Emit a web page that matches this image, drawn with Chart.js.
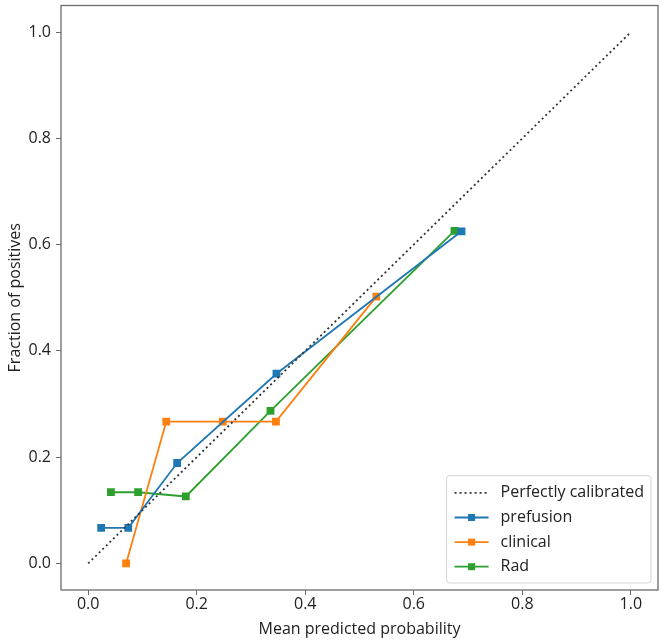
<!DOCTYPE html>
<html>
<head>
<meta charset="utf-8">
<script src="https://cdn.jsdelivr.net/npm/chart.js@4/dist/chart.umd.min.js"></script>
<style>
  body { margin: 0; background: #fff; }
  #wrap { width: 666px; height: 643px; }
</style>
</head>
<body>
<div id="wrap"><canvas id="calibChart" width="666" height="643"></canvas></div>
<script>
// calibration curves
const perfectX = [0, 1];
const perfectY = [0, 1];

const prefusionX = [0.024, 0.074, 0.164, 0.347, 0.688];
const prefusionY = [0.067, 0.067, 0.189, 0.357, 0.625];

const clinicalX = [0.070, 0.144, 0.248, 0.346, 0.531];
const clinicalY = [0.0, 0.267, 0.267, 0.267, 0.502];

const radX = [0.042, 0.092, 0.180, 0.336, 0.675];
const radY = [0.134, 0.134, 0.126, 0.287, 0.626];

const tickValues = [0, 0.2, 0.4, 0.6, 0.8, 1.0];

const toPoints = (xs, ys) => xs.map((x, i) => ({x: x, y: ys[i]}));

const FONT = "'Open Sans', 'Noto Sans', sans-serif";
const TEXT = '#222222';
const AXIS = '#6b6b6b';

// frame round the plot area (matplotlib spines)
const framePlugin = {
    id: 'frame',
    afterDraw(chart) {
        const a = chart.chartArea;
        const ctx = chart.ctx;
        ctx.save();
        ctx.strokeStyle = AXIS;
        ctx.lineWidth = 1.3;
        ctx.strokeRect(a.left, a.top, a.right - a.left, a.bottom - a.top);
        ctx.restore();
    }
};

// legend in the lower right corner, drawn inside the axes
const insideLegend = {
    id: 'insideLegend',
    afterDatasetsDraw(chart) {
        const ctx = chart.ctx;
        const a = chart.chartArea;
        const sets = chart.data.datasets;
        ctx.save();
        ctx.font = '16px ' + FONT;
        let textW = 0;
        sets.forEach(ds => { textW = Math.max(textW, ctx.measureText(ds.label).width); });
        const rowH = 24.6;
        const lineLen = 34;
        const padX = 8;
        const boxW = padX + lineLen + 12 + textW + 7;
        const boxH = rowH * sets.length + 9;
        const x0 = a.right - 7 - boxW;
        const y0 = a.bottom - 7 - boxH;

        ctx.beginPath();
        ctx.roundRect(x0, y0, boxW, boxH, 3);
        ctx.fillStyle = 'rgba(255,255,255,0.85)';
        ctx.fill();
        ctx.strokeStyle = '#d6d6d6';
        ctx.lineWidth = 1;
        ctx.stroke();

        sets.forEach((ds, i) => {
            const cy = y0 + 5 + rowH * i + rowH / 2;
            const lx = x0 + padX;
            ctx.beginPath();
            ctx.setLineDash(ds.borderDash || []);
            ctx.strokeStyle = ds.borderColor;
            ctx.lineWidth = ds.borderWidth;
            ctx.moveTo(lx, cy);
            ctx.lineTo(lx + lineLen, cy);
            ctx.stroke();
            ctx.setLineDash([]);
            if (ds.pointRadius > 0) {
                const s = 7;
                ctx.fillStyle = ds.borderColor;
                ctx.fillRect(lx + lineLen / 2 - s / 2, cy - s / 2, s, s);
            }
            ctx.fillStyle = TEXT;
            ctx.textAlign = 'left';
            ctx.textBaseline = 'middle';
            ctx.fillText(ds.label, lx + lineLen + 12, cy);
        });
        ctx.restore();
    }
};

const seriesStyle = (color) => ({
    borderColor: color,
    backgroundColor: color,
    borderWidth: 1.8,
    pointStyle: 'rect',
    pointRadius: 5.5,
    pointHoverRadius: 5.5,
    pointBorderWidth: 0,
    showLine: true,
    tension: 0
});

new Chart(document.getElementById('calibChart'), {
    type: 'scatter',
    data: {
        datasets: [{
            label: 'Perfectly calibrated',
            data: toPoints(perfectX, perfectY),
            borderColor: '#333333',
            backgroundColor: '#333333',
            borderWidth: 1.8,
            borderDash: [2, 3],
            pointRadius: 0,
            showLine: true
        },
        Object.assign({label: 'prefusion', data: toPoints(prefusionX, prefusionY)}, seriesStyle('#1f77b4')),
        Object.assign({label: 'clinical', data: toPoints(clinicalX, clinicalY)}, seriesStyle('#ff7f0e')),
        Object.assign({label: 'Rad', data: toPoints(radX, radY)}, seriesStyle('#2ca02c'))]
    },
    options: {
        responsive: false,
        animation: false,
        layout: { padding: { top: 5, right: 8, left: 0, bottom: 0 } },
        plugins: {
            legend: { display: false },
            tooltip: { enabled: false }
        },
        scales: {
            x: {
                type: 'linear',
                min: -0.05,
                max: 1.05,
                afterBuildTicks: (scale) => { scale.ticks = tickValues.map(v => ({value: v})); },
                afterFit: (scale) => { scale.height = 53; scale.paddingLeft = 0; scale.paddingRight = 0; },
                grid: { display: true, drawOnChartArea: false, drawTicks: true, tickLength: 5, color: AXIS },
                border: { display: false },
                ticks: {
                    padding: 0,
                    color: TEXT,
                    font: { family: FONT, size: 16 },
                    maxRotation: 0,
                    callback: (v) => v.toFixed(1)
                },
                title: {
                    display: true,
                    text: 'Mean predicted probability',
                    color: TEXT,
                    font: { family: FONT, size: 16 },
                    padding: { top: 0, bottom: 4 }
                }
            },
            y: {
                type: 'linear',
                min: -0.05,
                max: 1.05,
                afterBuildTicks: (scale) => { scale.ticks = tickValues.map(v => ({value: v})); },
                afterFit: (scale) => { scale.width = 61; scale.paddingTop = 0; scale.paddingBottom = 0; },
                grid: { display: true, drawOnChartArea: false, drawTicks: true, tickLength: 5, color: AXIS },
                border: { display: false },
                ticks: {
                    padding: 5,
                    color: TEXT,
                    font: { family: FONT, size: 16 },
                    callback: (v) => v.toFixed(1)
                },
                title: {
                    display: true,
                    text: 'Fraction of positives',
                    color: TEXT,
                    font: { family: FONT, size: 16 },
                    padding: { top: 6, bottom: 0 }
                }
            }
        }
    },
    plugins: [framePlugin, insideLegend]
});
</script>
</body>
</html>
